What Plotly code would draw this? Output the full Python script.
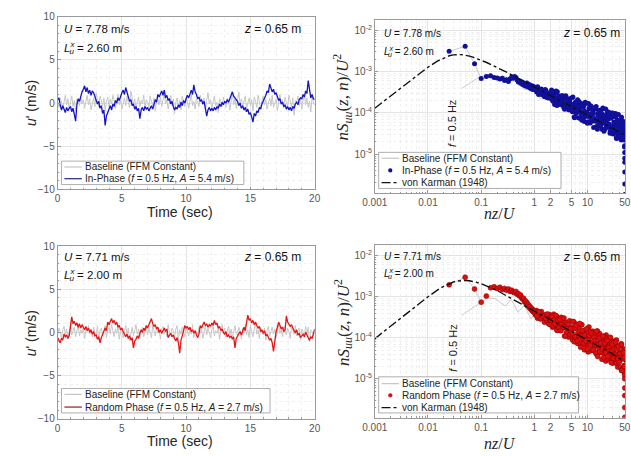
import math
import plotly.graph_objects as go

W, H = 631, 456

# ---------------- parameters shown in the panels ----------------
U_top, L_top = 7.78, 2.60
U_bot, L_bot = 7.71, 2.00
z_height = 0.65
f_forcing = 0.5
A_inphase, A_random = 5.4, 2.7

# ---------------- time series (sampled every 0.1 s) ----------------
dt = 0.1
baseline_top = [
    0.3, -0.5, 0.6, 0.1, -0.7, 0.4, 0.9, -0.2, 0.5, -0.6,
    0.2, 0.8, -0.4, 0.3, -0.9, 0.5, 0.1, -0.3, 0.7, -0.1,
    0.4, -0.6, 0.2, 0.9, -0.2, 0.5, -0.8, 0.1, 0.6, -0.4,
    1.2, 0.3, -0.5, 0.8, 0.1, -0.3, 0.6, -0.9, 0.2, 0.7,
    -0.4, 0.5, -0.1, 0.9, 0.3, -0.6, 0.4, 1.0, -0.2, 0.3,
    -0.7, 0.2, 0.6, -0.3, 0.8, 0.1, -0.5, 1.4, 0.4, -0.2,
    0.5, -0.8, 0.2, 0.7, -0.4, 0.3, -0.1, 0.9, -0.6, 0.4,
    0.1, -0.5, 0.8, 0.2, -0.3, 0.6, -0.9, 0.3, 0.5, -0.2,
    0.7, -0.4, 0.3, 1.1, -0.1, 0.4, -0.7, 0.2, 0.9, -0.3,
    0.5, -1.2, 0.1, 0.6, -0.5, 0.3, -0.8, 0.8, 0.0, -0.4,
    0.6, 0.2, -0.6, 0.4, 1.0, -0.3, 0.2, -0.7, 0.5, 0.1,
    -0.4, 0.9, 0.2, -0.2, 0.6, -0.9, 0.3, 1.2, -0.1, 0.4,
    -0.6, 0.3, 0.8, -0.3, 0.1, -1.1, 0.5, 0.2, -0.4, 0.7,
    0.0, -0.5, 0.6, 0.3, -0.8, 0.4, 1.1, -0.2, 0.5, -0.6,
    0.3, 1.3, -0.1, 0.5, -0.4, 0.2, 0.8, -0.7, 0.1, 0.6,
    -0.3, 0.4, -0.9, 0.7, 0.2, -0.5, 0.9, 0.0, -0.6, 0.3,
    0.8, -0.2, 0.4, -0.7, 0.1, 0.6, -0.3, 0.9, -0.5, 0.2,
    0.5, -0.9, 0.3, 1.0, -0.2, 0.4, -0.6, 0.7, 0.1, -0.4,
    0.9, 0.2, -0.5, 0.6, -1.4, 0.3, 0.1, 0.8, -0.3, 0.5,
    -0.7, 0.4, 1.0, -0.2, 0.6, -0.5, 0.2, -1.0, 0.7, 0.1,
    -0.3]
inphase_u = [
    0.4, 0.6, -0.2, -0.8, -0.3, -0.7, -1.1, -0.5, -0.9, -0.6,
    -0.4, -1.0, -0.6, -1.3, -2.1, -0.2, 0.5, 0.2, 0.9, 1.3,
    1.6, 2.0, 1.3, 1.8, 1.1, 1.5, 0.9, 1.4, 1.2, 0.8,
    0.5, -0.1, 0.2, -0.6, -0.3, -1.2, -0.8, -2.6, -1.5, -1.0,
    -0.7, -0.3, -0.8, -0.1, -0.4, 0.3, 0.0, 0.6, 0.3, 0.9,
    1.2, 1.5, 1.0, 1.8, 1.3, 0.6, 0.2, 0.4, -0.3, -0.1,
    -0.7, -0.4, -0.9, -0.6, -1.8, -0.8, -0.5, -0.9, -0.4, -0.7,
    -0.5, -0.9, -0.6, -0.3, -0.7, 0.0, 0.4, 0.1, 1.0, 0.7,
    1.1, 1.4, 0.9, 1.5, 0.6, 0.9, 0.3, 0.5, -0.1, 0.2,
    -0.4, -0.8, -0.5, -0.7, -0.2, -0.5, 0.1, -0.3, 0.3, 0.0,
    0.5, 0.9, 0.6, 1.2, 1.5, 1.0, 2.1, 1.3, 1.0, 0.5,
    0.7, 0.2, 0.4, -0.1, 0.2, -0.6, -1.5, -0.8, -0.5, -0.9,
    -0.6, -0.9, -0.5, -0.8, -0.4, -0.6, -0.1, -0.4, 0.1, -0.2,
    0.2, 0.0, 0.4, 0.1, 0.6, 0.9, 1.3, 0.8, 0.6, 0.3,
    0.2, -0.3, 0.0, -0.6, -0.3, -0.8, -0.5, -1.0, -0.7, -1.3,
    -1.1, -1.6, -2.2, -1.2, -1.5, -0.9, -1.1, -0.5, -0.7, -0.1,
    0.2, 0.5, 0.9, 1.4, 1.2, 2.2, 1.6, 1.3, 1.6, 1.0,
    1.2, 0.7, 0.3, 0.5, -0.1, 0.1, -0.4, -0.2, -0.7, -0.4,
    -0.8, -0.5, -0.9, -0.4, -0.6, -0.1, 0.1, -0.2, 0.4, 0.6,
    0.5, 1.0, 0.7, 1.4, 1.1, 2.6, 1.2, 0.6, 1.0, 0.5,
    0.4]
baseline_bot = [
    -0.4, 0.5, 0.1, -0.8, 0.3, 0.7, -0.2, 0.4, -0.6, 0.2,
    0.8, -0.3, 0.2, 0.6, -0.5, 0.1, 0.9, -0.4, 0.3, -0.1,
    0.5, -0.7, 0.3, 0.1, 0.8, -0.2, 0.4, -0.5, 0.6, 0.0,
    -0.3, 0.7, -0.9, 0.2, 0.5, -0.4, 0.1, 0.8, -0.6, 0.3,
    0.6, -0.2, 0.9, 0.1, -0.5, 0.4, -0.1, 0.7, -0.8, 0.2,
    0.4, -0.6, 0.2, 0.8, -0.3, 0.5, -1.0, 0.1, 0.6, -0.4,
    0.3, 0.9, -0.2, 0.4, -0.7, 0.2, 0.6, -0.5, 0.1, 0.7,
    -0.3, 0.5, 0.0, -0.6, 0.8, 0.2, -0.4, 0.6, -0.1, 0.3,
    -0.8, 0.4, 0.7, -0.2, 0.3, -0.5, 0.9, 0.1, -0.3, 0.5,
    0.2, -0.6, 0.4, 0.8, -0.9, 0.3, -0.2, 0.6, 0.0, -0.5,
    0.7, 0.1, -0.4, 0.5, -0.2, 0.9, -0.6, 0.3, 0.1, -0.3,
    0.6, -0.1, 0.4, -0.7, 0.2, 0.8, -0.3, 0.5, 0.0, -0.6,
    0.3, 0.7, -0.4, 0.2, -0.1, 0.6, -0.8, 0.4, 0.9, -0.2,
    0.5, -0.5, 0.1, 0.7, -0.3, 0.4, -0.6, 0.2, 0.8, -0.1,
    -0.4, 0.6, 0.2, -0.8, 0.5, 0.0, 0.9, -0.3, 0.3, -0.6,
    0.8, 0.1, -0.5, 0.4, 1.1, -0.2, 0.3, -0.7, 0.6, 0.0,
    -0.3, 0.5, -0.9, 0.2, 0.7, -0.4, 0.1, 0.6, -0.2, 0.4,
    -0.6, 0.3, 0.9, -0.1, 0.4, -0.5, 0.7, 0.2, -0.3, 0.5,
    0.1, -0.7, 0.6, 0.3, -0.2, 0.8, -0.4, 0.2, 0.5, -0.9,
    0.4, 0.0, -0.5, 0.7, -0.3, 0.6, -1.1, 0.3, 0.1, -0.4,
    0.2]
random_u = [
    -0.6, -0.9, -1.2, -0.7, -0.9, -0.2, -0.5, -0.3, -0.7, -0.4,
    0.6, 1.8, 1.0, 1.3, 0.8, 1.1, 0.6, 1.0, 0.5, 0.9,
    0.6, 0.3, 0.7, 0.2, 0.5, 0.0, 0.3, -0.2, 0.1, -0.4,
    -0.3, -0.8, -0.5, -1.2, -0.6, -0.2, 0.1, 0.5, 0.2, 1.2,
    0.9, 1.4, 1.6, 1.1, 1.4, 0.9, 1.2, 0.6, 0.8, 0.3,
    0.5, 0.1, -0.2, -0.5, -0.2, -0.7, -0.4, -0.9, -0.6, -1.8,
    -1.0, -0.8, -0.4, -0.7, -0.1, 0.3, 0.0, 0.5, 0.2, 0.8,
    0.5, 0.9, 1.1, 1.6, 1.0, 0.7, 0.9, 0.4, 0.6, 0.0,
    0.3, -0.1, 0.2, 0.5, 0.1, 0.4, -0.6, -0.3, -0.1, -0.5,
    -0.3, -0.7, -1.0, -0.6, -1.2, -2.4, -0.9, -0.4, 0.2, 0.8,
    0.5, 0.7, 0.3, 0.6, 0.1, 0.3, -0.1, 0.2, -0.3, -0.6,
    -0.2, 0.8, 0.5, 0.9, 1.2, 0.8, 1.0, 0.6, 0.9, 0.7,
    1.1, 0.8, 1.4, 0.9, 1.1, 0.5, 0.7, 0.2, 0.4, 0.0,
    -0.2, 0.1, -0.5, -0.3, -0.6, -0.4, -0.8, -0.5, -1.8, -0.7,
    -0.4, -0.2, 0.1, -0.3, 0.3, 0.6, 0.2, 1.2, 2.0, 1.4,
    1.6, 1.1, 1.4, 0.9, 1.2, 0.8, 0.5, 0.7, 0.1, 0.3,
    -0.1, 0.2, -0.4, -0.2, -0.6, -0.9, -0.7, -1.2, -2.2, -0.6,
    0.1, 0.6, 1.2, 0.8, 0.4, 0.6, 0.1, 0.3, 1.9, 1.2,
    1.0, 0.7, 0.9, 0.4, 0.2, 0.0, 0.3, -0.3, -0.1, -0.6,
    -0.4, -0.2, -0.5, 0.0, -0.3, -0.6, -0.9, -0.5, -0.7, -0.2,
    0.4]

# ---------------- spectra: nz/U bins and nS_uu/U^2 values ----------------
spec_nzU = [
    0.025, 0.05, 0.075, 0.1, 0.125, 0.15, 0.175, 0.2, 0.225, 0.25,
    0.275, 0.3, 0.325, 0.35, 0.375, 0.4, 0.425, 0.45, 0.475, 0.5,
    0.525, 0.55, 0.575, 0.6, 0.625, 0.65, 0.675, 0.7, 0.725, 0.75,
    0.775, 0.8, 0.825, 0.85, 0.875, 0.9, 0.925, 0.95, 0.975, 1.0,
    1.05, 1.1, 1.15, 1.2, 1.25, 1.3, 1.35, 1.4, 1.5, 1.55, 1.6, 1.7, 1.8, 1.85, 1.9,
    2.0, 2.1, 2.2, 2.3, 2.4, 2.5, 2.6, 2.7, 2.8,
    3.0, 3.1, 3.2, 3.4, 3.5, 3.7, 3.9, 4.0, 4.2, 4.4, 4.6, 4.8,
    5.0, 5.2, 5.5, 5.7, 6.0, 6.2, 6.5, 6.8, 7.0, 7.3, 7.6, 8.0, 8.3, 8.7, 9.0, 9.4, 9.8,
    10.2, 10.6, 11.0, 11.5, 12.0, 12.5, 13.0, 13.5, 14.0, 14.5, 15.0, 15.6, 16.2, 16.8,
    17.5, 18.0, 18.6, 19.3, 20.0, 20.7, 21.5, 22.3, 23.0, 23.8, 24.6, 25.5, 26.4, 27.3,
    28.2, 29.2,
    30.2, 31.2, 32.2, 33.3, 34.4, 35.5, 36.7, 37.9, 39.1, 40.3, 41.6, 42.9, 44.2, 45.5,
    46.9, 48.3, 49.7,
    3.3, 4.5, 5.4, 6.3, 7.8, 8.5, 9.6, 10.4, 11.2, 12.2, 13.2, 14.2, 15.3, 16.5, 17.2,
    18.3, 19.0, 19.7, 21.0, 21.9, 22.7, 24.2, 25.0, 26.0, 26.9, 27.8, 28.7, 29.7, 30.7,
    31.7, 32.7, 33.8, 34.9, 36.1, 37.3, 38.5, 39.7, 41.0, 42.2, 43.5, 44.8, 46.2, 47.6,
    49.0,
    49.5, 49.8, 50.0, 50.0, 50.0, 50.0, 50.0,
    1.02, 1.12, 1.22, 1.32, 1.45, 1.65, 1.75, 1.95, 2.05, 2.15, 2.25, 2.35, 2.45, 2.55,
    2.65, 2.75, 2.9, 3.05, 3.15, 3.25, 3.45, 3.6, 3.8, 4.1, 4.3, 4.7, 4.9, 5.1, 5.3,
    5.6, 5.8, 5.9, 6.1, 6.4, 6.6, 6.9, 7.1, 7.4, 7.7, 8.1, 8.4, 8.8, 9.2, 9.5, 9.9,
    10.8, 11.3, 11.8, 12.7, 13.4, 13.9, 14.7, 15.5, 16.0, 16.6, 17.0, 17.8, 18.8, 19.5,
    20.3, 21.2, 22.0, 23.4, 24.0, 24.9, 25.8, 26.7, 27.6, 28.5, 29.5, 30.5, 31.5, 32.5,
    33.6, 34.7, 35.8, 36.9, 38.1, 39.4, 40.7, 41.9, 43.2, 44.5, 45.9, 47.2, 48.6, 49.4]
inphase_psd = [
    3.1e-3, 4.1e-3, 1.55e-3, 6.8e-4, 7.6e-4, 7.9e-4, 7.2e-4, 7.0e-4, 6.6e-4, 6.9e-4,
    6.1e-4, 6.4e-4, 5.8e-4, 6.7e-4, 7.4e-4, 6.9e-4, 7.6e-4, 7.2e-4, 6.3e-4, 5.6e-4,
    6.0e-4, 5.2e-4, 5.7e-4, 4.9e-4, 5.4e-4, 4.6e-4, 5.1e-4, 4.4e-4, 5.3e-4, 4.7e-4,
    4.2e-4, 4.9e-4, 4.5e-4, 3.9e-4, 4.6e-4, 4.1e-4, 3.7e-4, 4.4e-4, 3.8e-4, 4.2e-4,
    4.2e-4, 3.2e-4, 4.3e-4, 2.8e-4, 3.5e-4, 3.2e-4, 3.8e-4, 2.75e-4, 3.3e-4, 2.45e-4,
    3.7e-4, 2.7e-4, 2.9e-4, 2.3e-4, 3.05e-4,
    2.4e-4, 3.6e-4, 2.0e-4, 2.8e-4, 1.6e-4, 3.0e-4, 1.94e-4, 3.25e-4, 1.57e-4,
    2.2e-4, 1.9e-4, 2.6e-4, 1.5e-4, 2.2e-4, 1.22e-4, 2.6e-4, 1.5e-4, 1.73e-4, 1.19e-4,
    1.9e-4, 1.36e-4,
    2.3e-4, 1.06e-4, 1.64e-4, 7.6e-5, 1.86e-4, 1.02e-4, 2.07e-4, 7.6e-5, 1.32e-4, 1.08e-4,
    1.68e-4, 7.8e-5, 1.35e-4, 6.2e-5, 1.82e-4, 8.4e-5, 1.03e-4,
    6.1e-5, 1.29e-4, 8.0e-5, 1.49e-4, 6.3e-5, 1.03e-4, 4.4e-5, 1.22e-4, 6.3e-5, 1.42e-4,
    4.6e-5, 8.6e-5, 7.0e-5, 1.16e-4, 4.9e-5, 9.3e-5, 4.0e-5, 1.32e-4, 5.6e-5, 7.1e-5,
    4.2e-5, 8.9e-5, 5.6e-5, 1.06e-4, 4.5e-5, 7.4e-5, 3.2e-5, 8.7e-5, 4.4e-5, 1.0e-4,
    3.1e-5, 6.0e-5, 4.8e-5, 8.1e-5, 3.2e-5, 6.3e-5, 2.5e-5, 9.1e-5, 3.6e-5, 4.6e-5,
    2.6e-5, 5.6e-5, 3.3e-5, 6.3e-5, 2.5e-5, 4.1e-5, 1.6e-5,
    1.57e-4, 2.2e-4, 1.24e-4, 1.58e-4, 6.6e-5, 1.5e-4, 8.3e-5, 1.69e-4, 5.7e-5, 9.2e-5,
    6.5e-5, 1.26e-4, 4.0e-5, 9.0e-5, 5.0e-5, 9.8e-5, 6.6e-5, 7.8e-5, 4.0e-5, 1.24e-4,
    4.7e-5, 1.04e-4, 5.4e-5, 7.8e-5, 3.3e-5, 8.6e-5, 4.7e-5, 9.8e-5, 3.3e-5, 5.6e-5,
    3.8e-5, 8.0e-5, 2.4e-5, 5.8e-5, 3.1e-5, 6.4e-5, 4.1e-5, 4.8e-5, 2.3e-5, 7.8e-5,
    2.6e-5, 6.2e-5, 3.0e-5, 4.3e-5,
    1.5e-5, 1.1e-5, 8.0e-6, 6.4e-6, 3.7e-6, 1.9e-6, 1.05e-6,
    3.7e-4, 3.96e-4, 3.0e-4, 3.4e-4, 2.94e-4, 3.47e-4, 2.34e-4, 2.9e-4, 2.24e-4, 3.24e-4,
    1.92e-4, 2.5e-4, 2.25e-4, 3.4e-4, 1.51e-4, 2.19e-4, 2.57e-4, 1.64e-4, 2.16e-4, 1.8e-4,
    2.62e-4, 1.31e-4, 2.04e-4, 1.45e-4, 2.07e-4, 1.18e-4, 1.53e-4, 1.35e-4, 2.42e-4, 7.9e-5,
    1.33e-4, 1.76e-4, 9.7e-5, 1.4e-4, 1.09e-4, 1.88e-4, 7.4e-5, 1.4e-4, 9.1e-5, 1.54e-4,
    7.6e-5, 1.1e-4, 9.5e-5, 1.71e-4, 5.6e-5,
    9.2e-5, 1.25e-4, 6.4e-5, 9.7e-5, 7.3e-5, 1.37e-4, 4.7e-5, 9.6e-5, 6.0e-5, 1.09e-4,
    5.0e-5, 7.7e-5, 6.6e-5, 1.26e-4, 3.6e-5, 6.6e-5, 9.0e-5, 4.6e-5, 7.1e-5, 5.4e-5,
    1.02e-4, 3.6e-5, 7.4e-5, 4.6e-5, 8.3e-5, 3.5e-5, 5.6e-5, 4.8e-5, 9.6e-5, 2.5e-5,
    4.7e-5, 6.5e-5, 3.2e-5, 5.0e-5, 3.6e-5, 7.0e-5, 2.2e-5, 4.7e-5, 2.8e-5, 5.2e-5,
    2.2e-5, 3.5e-5]
random_psd = [
    1.95e-3, 3.0e-3, 1.55e-3, 7.4e-4, 1.04e-3, 1.65e-3, 1.75e-3, 1.6e-3, 1.7e-3, 1.5e-3,
    1.6e-3, 1.45e-3, 1.55e-3, 1.35e-3, 1.45e-3, 1.3e-3, 1.25e-3, 1.35e-3, 1.15e-3, 1.2e-3,
    1.05e-3, 1.1e-3, 9.5e-4, 8.8e-4, 9.2e-4, 7.6e-4, 8.0e-4, 6.8e-4, 7.2e-4, 6.0e-4,
    6.4e-4, 5.5e-4, 5.8e-4, 5.0e-4, 5.3e-4, 4.6e-4, 4.9e-4, 4.3e-4, 4.6e-4, 4.1e-4,
    3.6e-4, 4.6e-4, 3.0e-4, 4.2e-4, 3.65e-4, 2.9e-4, 4.35e-4, 3.1e-4, 3.5e-4, 2.4e-4,
    3.65e-4, 2.6e-4, 3.05e-4, 2.2e-4, 3.7e-4,
    2.56e-4, 3.06e-4, 1.8e-4, 3.77e-4, 2.0e-4, 2.06e-4, 3.34e-4, 1.53e-4, 2.9e-4,
    2.2e-4, 1.5e-4, 3.15e-4, 1.76e-4, 2.33e-4, 1.1e-4, 2.4e-4, 1.35e-4, 1.88e-4, 1.04e-4,
    2.6e-4, 1.46e-4,
    1.82e-4, 8.9e-5, 2.45e-4, 1.05e-4, 1.1e-4, 2.14e-4, 7.3e-5, 1.74e-4, 1.26e-4, 7.6e-5,
    2.1e-4, 9.5e-5, 1.41e-4, 5.1e-5, 1.51e-4, 6.9e-5, 1.07e-4,
    4.6e-5, 1.84e-4, 8.0e-5, 1.05e-4, 4.9e-5, 1.45e-4, 5.8e-5, 6.1e-5, 1.26e-4, 4.1e-5,
    1.02e-4, 7.4e-5, 4.3e-5, 1.28e-4, 5.6e-5, 8.6e-5, 3.0e-5, 9.6e-5, 4.2e-5, 6.8e-5,
    3.0e-5, 1.17e-4, 5.2e-5, 6.9e-5, 3.2e-5, 9.5e-5, 3.8e-5, 4.0e-5, 8.2e-5, 2.65e-5,
    6.8e-5, 4.9e-5, 2.9e-5, 8.5e-5, 3.7e-5, 5.6e-5, 1.95e-5, 6.2e-5, 2.7e-5, 4.4e-5,
    1.87e-5, 7.2e-5, 3.1e-5, 3.9e-5, 1.8e-5, 5.3e-5, 2.1e-5,
    2.5e-4, 1.08e-4, 1.64e-4, 9.9e-5, 2.07e-4, 6.9e-5, 1.17e-4, 4.6e-5, 1.43e-4, 7.6e-5,
    1.04e-4, 4.4e-5, 1.46e-4, 5.4e-5, 1.02e-4, 4.4e-5, 6.7e-5, 5.3e-5, 1.05e-4, 2.7e-5,
    8.1e-5, 3.0e-5, 6.1e-5, 3.9e-5, 9.8e-5, 3.2e-5, 6.0e-5, 2.4e-5, 7.7e-5, 4.2e-5,
    5.9e-5, 2.6e-5, 8.8e-5, 3.3e-5, 6.3e-5, 2.7e-5, 4.1e-5, 3.2e-5, 6.4e-5, 1.6e-5,
    4.7e-5, 1.7e-5, 3.5e-5, 2.1e-5,
    1.4e-5, 1.2e-5, 1.0e-5, 6.0e-6, 3.9e-6, 2.0e-6, 1.15e-6,
    4.35e-4, 3.42e-4, 4.25e-4, 2.9e-4, 3.33e-4, 2.93e-4, 3.8e-4, 2.1e-4, 2.65e-4, 3.33e-4,
    1.96e-4, 2.72e-4, 2.17e-4, 3.5e-4, 1.53e-4, 2.67e-4, 1.79e-4, 2.8e-4, 1.5e-4, 2.1e-4,
    1.83e-4, 3.03e-4, 1.11e-4, 1.71e-4, 2.13e-4, 1.2e-4, 1.66e-4, 1.27e-4, 2.48e-4, 8.0e-5,
    1.73e-4, 1.06e-4, 2.0e-4, 8.4e-5, 1.34e-4, 1.12e-4, 2.24e-4, 5.9e-5, 1.11e-4, 1.51e-4,
    7.4e-5, 1.16e-4, 8.5e-5, 1.65e-4, 5.3e-5,
    1.13e-4, 6.6e-5, 1.29e-4, 5.1e-5, 8.3e-5, 7.0e-5, 1.45e-4, 3.5e-5, 6.8e-5, 9.7e-5,
    4.6e-5, 7.5e-5, 5.4e-5, 1.1e-4, 3.3e-5, 7.5e-5, 4.4e-5, 8.6e-5, 3.5e-5, 5.7e-5,
    4.8e-5, 1.03e-4, 2.5e-5, 4.9e-5, 6.9e-5, 3.2e-5, 5.3e-5, 3.8e-5, 7.8e-5, 2.4e-5,
    5.4e-5, 3.1e-5, 6.2e-5, 2.5e-5, 4.0e-5, 3.3e-5, 6.9e-5, 1.6e-5, 3.1e-5, 4.3e-5,
    2.0e-5, 3.3e-5]

base_top_nzU = [0.043, 0.092, 0.13, 0.19, 0.28, 0.37, 0.5, 0.66, 0.9, 1.3, 1.9, 3, 5, 10, 20, 50]
base_top_psd = [3.9e-4, 7.4e-4, 8.5e-4, 7.0e-4, 7.6e-4, 6.0e-4, 5.8e-4, 3.6e-4, 4.4e-4,
                2.2e-4, 3.0e-4, 1.8e-4, 1.3e-4, 7.5e-5, 5.0e-5, 3.0e-5]
base_bot_nzU = [0.0425, 0.098, 0.13, 0.186, 0.28, 0.37, 0.49, 0.65, 0.86, 1.13, 2, 5, 10, 20, 50]
base_bot_psd = [3.5e-4, 7.2e-4, 9.3e-4, 8.9e-4, 6.0e-4, 8.5e-4, 4.2e-4, 6.2e-4, 2.9e-4,
                5.0e-4, 2.5e-4, 1.2e-4, 7.0e-5, 4.5e-5, 2.5e-5]

vk_nzU = [0.001, 0.0015, 0.002, 0.003, 0.005, 0.007, 0.01, 0.015, 0.02, 0.025, 0.03, 0.035,
          0.04, 0.045, 0.05, 0.06, 0.07, 0.08, 0.1, 0.13, 0.16, 0.2, 0.3, 0.5, 1, 2, 3, 5,
          10, 20, 30, 50]
vk_top = [1.3e-4, 1.95e-4, 2.6e-4, 3.9e-4, 6.6e-4, 9.2e-4, 1.28e-3, 1.8e-3, 2.18e-3, 2.42e-3,
          2.55e-3, 2.6e-3, 2.59e-3, 2.56e-3, 2.51e-3, 2.38e-3, 2.24e-3, 2.11e-3, 1.89e-3,
          1.64e-3, 1.44e-3, 1.26e-3, 9.7e-4, 6.8e-4, 4.2e-4, 2.65e-4, 2.0e-4, 1.4e-4,
          8.8e-5, 5.5e-5, 4.2e-5, 2.9e-5]
vk_bot = [9.5e-5, 1.45e-4, 1.95e-4, 3.0e-4, 5.1e-4, 7.2e-4, 1.0e-3, 1.45e-3, 1.82e-3, 2.02e-3,
          2.3e-3, 2.41e-3, 2.47e-3, 2.5e-3, 2.5e-3, 2.45e-3, 2.37e-3, 2.27e-3, 2.07e-3,
          1.82e-3, 1.62e-3, 1.42e-3, 1.05e-3, 7.3e-4, 4.5e-4, 2.8e-4, 2.1e-4, 1.45e-4,
          8.8e-5, 5.3e-5, 4.0e-5, 2.6e-5]

x_tick_vals = [0.001, 0.01, 0.1, 1, 2, 5, 10, 50]
x_tick_text = ["0.001", "0.01", "0.1", "1", "2", "5", "10", "50"]
y_tick_vals = [1e-5, 1e-4, 1e-3, 1e-2]
y_tick_text = ["10<sup>-5</sup>", "10<sup>-4</sup>", "10<sup>-3</sup>", "10<sup>-2</sup>"]

# ---------------- styling ----------------
SANS = "Liberation Sans, Arial, Helvetica, sans-serif"
SERIF = "Liberation Serif, Times New Roman, serif"
GRAY_BASE = "#c6c6c6"
BLUE_LINE = "#1414c8"
BLUE_MK = "#10109a"
RED_LINE = "#e61414"
RED_MK = "#dc1010"
AXLINE = "#9a9a9a"
GRID = "#e4e4e4"
MINOR = "#f0f0f0"
TICKC = "#555555"
TITLEC = "#262626"


def px2paper_x(v):
    return v / W


def px2paper_y(v):
    return 1 - v / H


time_top = [round(k * dt, 1) for k in range(len(inphase_u))]
time_bot = [round(k * dt, 1) for k in range(len(random_u))]

fig = go.Figure()

# ---- top-left time series
fig.add_trace(go.Scatter(x=time_top, y=baseline_top, mode="lines", xaxis="x", yaxis="y",
                         line=dict(color=GRAY_BASE, width=1), showlegend=False))
fig.add_trace(go.Scatter(x=time_top, y=inphase_u, mode="lines", xaxis="x", yaxis="y",
                         line=dict(color=BLUE_LINE, width=1.3), showlegend=False))
# ---- bottom-left time series
fig.add_trace(go.Scatter(x=time_bot, y=baseline_bot, mode="lines", xaxis="x3", yaxis="y3",
                         line=dict(color=GRAY_BASE, width=1), showlegend=False))
fig.add_trace(go.Scatter(x=time_bot, y=random_u, mode="lines", xaxis="x3", yaxis="y3",
                         line=dict(color=RED_LINE, width=1.3), showlegend=False))

# ---- top-right spectrum
fig.add_trace(go.Scatter(x=base_top_nzU, y=base_top_psd, mode="lines", xaxis="x2", yaxis="y2",
                         line=dict(color=GRAY_BASE, width=0.9), showlegend=False))
fig.add_trace(go.Scatter(x=spec_nzU[:4], y=inphase_psd[:4], mode="lines", xaxis="x2", yaxis="y2",
                         line=dict(color=GRAY_BASE, width=0.9), showlegend=False))
fig.add_trace(go.Scatter(x=spec_nzU, y=inphase_psd, mode="markers", xaxis="x2", yaxis="y2",
                         marker=dict(color=BLUE_MK, size=5, line=dict(width=0)),
                         showlegend=False))
fig.add_trace(go.Scatter(x=vk_nzU, y=vk_top, mode="lines", xaxis="x2", yaxis="y2",
                         line=dict(color="#111111", width=1.4, dash="dashdot"), showlegend=False))

# ---- bottom-right spectrum
fig.add_trace(go.Scatter(x=base_bot_nzU, y=base_bot_psd, mode="lines", xaxis="x4", yaxis="y4",
                         line=dict(color=GRAY_BASE, width=0.9), showlegend=False))
fig.add_trace(go.Scatter(x=spec_nzU[:4], y=random_psd[:4], mode="lines", xaxis="x4", yaxis="y4",
                         line=dict(color=GRAY_BASE, width=0.9), showlegend=False))
fig.add_trace(go.Scatter(x=spec_nzU, y=random_psd, mode="markers", xaxis="x4", yaxis="y4",
                         marker=dict(color=RED_MK, size=5, line=dict(width=0.5, color="#8a0000")),
                         showlegend=False))
fig.add_trace(go.Scatter(x=vk_nzU, y=vk_bot, mode="lines", xaxis="x4", yaxis="y4",
                         line=dict(color="#111111", width=1.4, dash="dashdot"), showlegend=False))

# ---------------- axes ----------------
left_dom = [px2paper_x(46), px2paper_x(311)]
right_dom = [px2paper_x(373), 1.0]
tl_dom = [px2paper_y(189), px2paper_y(12)]
bl_dom = [px2paper_y(424), px2paper_y(247)]
tr_dom = [px2paper_y(193), px2paper_y(15)]
br_dom = [px2paper_y(423), px2paper_y(246)]

common = dict(showline=True, linecolor=AXLINE, linewidth=0.8, mirror=True,
              ticks="inside", ticklen=3, tickcolor=AXLINE,
              showgrid=True, gridcolor=GRID, gridwidth=0.8, zeroline=False,
              ticklabeloverflow="allow",
              tickfont=dict(family=SANS, size=10, color=TICKC))

minor_lin = dict(dtick=1, showgrid=True, gridcolor=MINOR, griddash="dot",
                 ticks="inside", ticklen=1.5, tickcolor=AXLINE)
log_minor_vals = [m * 10.0 ** e for e in range(-6, 2) for m in range(2, 10)]
minor_log = dict(tickmode="array", tickvals=log_minor_vals, showgrid=True, gridcolor=MINOR,
                 griddash="dot", ticks="inside", ticklen=1.5, tickcolor=AXLINE)

for xa, ya, ydom, ax_x, ax_y in (("xaxis", "yaxis", tl_dom, "x", "y"),
                                 ("xaxis3", "yaxis3", bl_dom, "x3", "y3")):
    fig.layout[xa] = dict(common, domain=left_dom, anchor=ax_y, range=[0, 20], tick0=0, dtick=5,
                          minor=minor_lin)
    fig.layout[ya] = dict(common, domain=ydom, anchor=ax_x, range=[-10, 10], tick0=0, dtick=5,
                          minor=minor_lin)

for xa, ya, ydom, ax_x, ax_y in (("xaxis2", "yaxis2", tr_dom, "x2", "y2"),
                                 ("xaxis4", "yaxis4", br_dom, "x4", "y4")):
    fig.layout[xa] = dict(common, domain=right_dom, anchor=ax_y, type="log",
                          range=[-3, math.log10(50) + 0.004],
                          tickmode="array", tickvals=x_tick_vals, ticktext=x_tick_text,
                          minor=minor_log)
    fig.layout[ya] = dict(common, domain=ydom, anchor=ax_x, type="log",
                          range=[-5.95, -1.74],
                          tickmode="array", tickvals=y_tick_vals, ticktext=y_tick_text,
                          minor=minor_log)

# ---------------- annotations & decorations ----------------
ann = []
shapes = []


def text(xpx, ypx, s, size=12, anchor="left", family=SANS, color="#111111", angle=0):
    ann.append(dict(x=px2paper_x(xpx), y=px2paper_y(ypx), xref="paper", yref="paper",
                    text=s, showarrow=False, xanchor=anchor, yanchor="middle",
                    textangle=angle, font=dict(family=family, size=size, color=color)))


# axis titles (placed as text so they sit exactly where the reference has them)
for yc in (212, 447):
    text(172, yc, "Time (sec)", size=14, anchor="center", color=TITLEC)
    text(502, yc + 2, "<i>nz</i>/<i>U</i>", size=16, anchor="center", family=SERIF, color=TITLEC)
for yc in (100, 336):
    text(18, yc, "<i>u</i>' (m/s)", size=14, anchor="center", color=TITLEC, angle=-90)
for yc in (94, 325):
    text(340, yc, "<i>nS</i><sub><i>uu</i></sub>(<i>z</i>, <i>n</i>)/<i>U</i><sup>2</sup>",
         size=17, anchor="center", family=SERIF, color=TITLEC, angle=-90)


def info_block(x0, yU, yL, xz, yz, U, L, size_ul, size_z):
    text(x0, yU, f"<i>U</i> = {U:.2f} m/s", size=size_ul)
    text(x0, yL, f"<i>L</i><sup><span style='letter-spacing:-5px'><i>x</i></span></sup>"
                 f"<sub><i>u</i></sub> = {L:.2f} m", size=size_ul)
    text(xz, yz, f"<i>z</i> = {z_height:.2f} m", size=size_z, anchor="left")


info_block(51, 25, 45, 236, 25, U_top, L_top, 11.5, 12)
info_block(51, 258, 278, 236, 258, U_bot, L_bot, 11.5, 12)
info_block(380, 29, 48, 565, 29, U_top, L_top, 10, 12)
info_block(380, 258, 276, 565, 258, U_bot, L_bot, 10, 12)

# forcing frequency marker lines on the spectra
for xa_ref, ya_ref, U, dash, col, ymid in (("x2", "y2", U_top, "dash", "#b4b4b4", 122),
                                           ("x4", "y4", U_bot, "dashdot", "#8c8c8c", 352)):
    fx = math.log10(f_forcing * z_height / U)
    shapes.append(dict(type="line", xref=xa_ref, yref=f"{ya_ref} domain", x0=fx, x1=fx, y0=0, y1=1,
                       line=dict(color=col, width=1, dash=dash), layer="below"))
    ann.append(dict(x=fx, y=px2paper_y(ymid), xref=xa_ref, yref="paper", xanchor="right",
                    yanchor="middle", xshift=-1, text=f"<i>f</i> = {f_forcing} Hz", showarrow=False,
                    textangle=-90, font=dict(family=SANS, size=11, color="#222222")))


def legend_box(x0, y0, x1, y1, rows):
    shapes.append(dict(type="rect", xref="paper", yref="paper",
                       x0=px2paper_x(x0), x1=px2paper_x(x1), y0=px2paper_y(y1), y1=px2paper_y(y0),
                       fillcolor="white", line=dict(color="#9a9a9a", width=0.8), layer="above"))
    for (ry, kind, color, dash, label) in rows:
        if kind == "line":
            shapes.append(dict(type="line", xref="paper", yref="paper",
                               x0=px2paper_x(x0 + 3), x1=px2paper_x(x0 + 21),
                               y0=px2paper_y(ry), y1=px2paper_y(ry),
                               line=dict(color=color, width=1.2, dash=dash), layer="above"))
        else:
            cx = x0 + 12
            shapes.append(dict(type="circle", xref="paper", yref="paper",
                               x0=px2paper_x(cx - 2.2), x1=px2paper_x(cx + 2.2),
                               y0=px2paper_y(ry + 2.2), y1=px2paper_y(ry - 2.2),
                               fillcolor=color, line=dict(color=color, width=0), layer="above"))
        text(x0 + 22, ry, label, size=10, color="#222222")


lab_base = "Baseline (FFM Constant)"
lab_in = f"In-Phase (<i>f</i> = {f_forcing} Hz, <i>A</i> = {A_inphase} m/s)"
lab_rand = f"Random Phase (<i>f</i> = {f_forcing} Hz, <i>A</i> = {A_random} m/s)"
lab_vk = "von Karman (1948)"

legend_box(50, 160, 238, 184, [(166, "line", GRAY_BASE, "solid", lab_base),
                               (178, "line", "#23238a", "solid", lab_in)])
legend_box(50, 393, 265, 418, [(399, "line", GRAY_BASE, "solid", lab_base),
                               (412, "line", "#a01818", "solid", lab_rand)])
legend_box(377, 151, 565, 188, [(157, "line", GRAY_BASE, "solid", lab_base),
                                (169.5, "dot", BLUE_MK, None, lab_in),
                                (182, "line", "#111111", "dashdot", lab_vk)])
legend_box(377, 381, 583, 418, [(388, "line", GRAY_BASE, "solid", lab_base),
                                (400, "dot", RED_MK, None, lab_rand),
                                (412.5, "line", "#111111", "dashdot", lab_vk)])

fig.update_layout(width=W, height=H, autosize=False, margin=dict(l=0, r=0, t=0, b=0),
                  paper_bgcolor="white", plot_bgcolor="white",
                  annotations=ann, shapes=shapes, showlegend=False)

fig.write_html(
    "out.html",
    config={"displayModeBar": False, "responsive": False},
    default_width=f"{W}px", default_height=f"{H}px",
    post_script=("document.documentElement.style.overflow='hidden';"
                 "document.body.style.margin='0px';document.body.style.overflow='hidden';"),
)
